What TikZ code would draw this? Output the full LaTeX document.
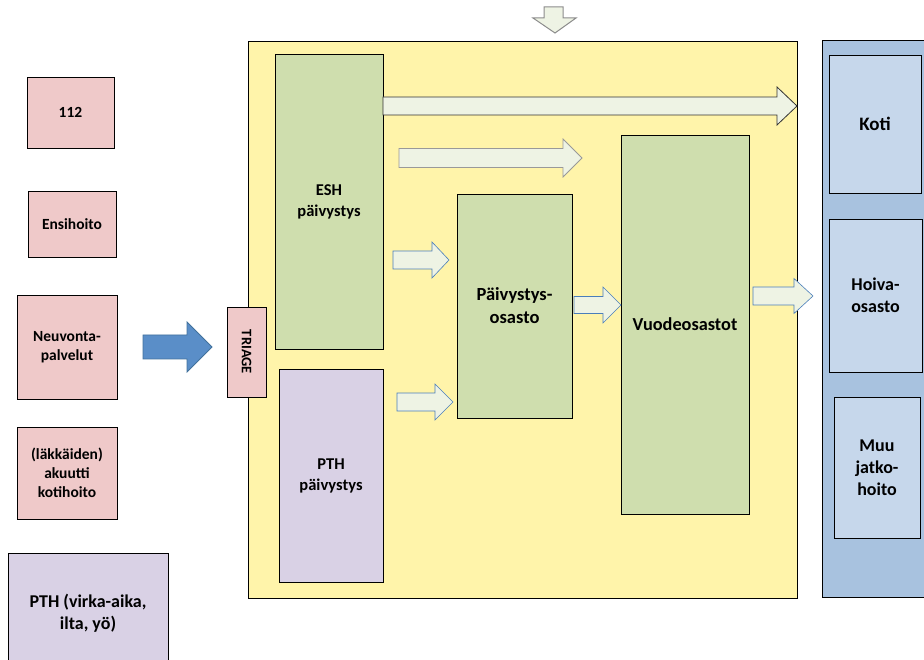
\documentclass[tikz,border=0pt]{standalone}
\usepackage{fontspec}
\setmainfont{Carlito}[BoldFont={Carlito Bold}]
\usepackage{xcolor}
\usepackage{tikz}
\usetikzlibrary{positioning}

\definecolor{yellowbg}{HTML}{FFF4AA}
\definecolor{greenbox}{HTML}{CFDEAE}
\definecolor{lilacbox}{HTML}{D9D1E5}
\definecolor{pinkbox}{HTML}{EFC9C9}
\definecolor{bluepanel}{HTML}{A8C2DF}
\definecolor{bluebox}{HTML}{C6D7EB}
\definecolor{arrowfill}{HTML}{EEF3E4}
\definecolor{bigarrow}{HTML}{5A8EC8}
\definecolor{bigarrowline}{HTML}{41719C}
\definecolor{arrowline}{HTML}{4A7EBB}

% block arrow: [style]{x start}{x tip}{y}{half shaft}{half head}{x head}
\newcommand{\blockarrow}[7][]{%
  \draw[#1] (#2,#4-#5) -- (#7,#4-#5) -- (#7,#4-#6) -- (#3,#4)
    -- (#7,#4+#6) -- (#7,#4+#5) -- (#2,#4+#5) -- cycle;}

\begin{document}
\begin{tikzpicture}[x=1pt,y=-1pt,
    font=\bfseries\fontsize{16}{20}\selectfont,
    box/.style={draw=black, line width=0.8pt, align=center, inner sep=0pt},
    pink/.style={box, fill=pinkbox},
    green/.style={box, fill=greenbox},
    lilac/.style={box, fill=lilacbox},
    lightblue/.style={box, fill=bluebox, font=\bfseries\fontsize{18}{22}\selectfont},
    flow/.style={fill=arrowfill, draw=arrowline, line width=0.6pt},
    ]
\useasboundingbox (0,0) rectangle (924,660);
\clip (0,0) rectangle (924,660);

% backgrounds
\node[box, fill=yellowbg, minimum width=549pt, minimum height=557pt] (hosp) at (522.5,319.5) {};
\node[box, fill=bluepanel, minimum width=120pt, minimum height=557pt] (after) at (882,318.5) {};

% left column
\node[pink, minimum width=87pt, minimum height=71pt, font=\bfseries\fontsize{15.5}{18}\selectfont] (n112) at (70.5,112.5) {112};
\node[pink, minimum width=88pt, minimum height=66pt, font=\bfseries\fontsize{15.5}{18}\selectfont] (ensi) at (72,224) {Ensihoito};
\node[pink, minimum width=100pt, minimum height=104pt, font=\bfseries\fontsize{15.5}{19}\selectfont] (neuvo) at (67,347) {Neuvonta-\\palvelut};
\node[pink, minimum width=100pt, minimum height=92pt, font=\bfseries\fontsize{15.5}{19}\selectfont] (koti1) at (67,473) {(läkkäiden)\\akuutti\\kotihoito};
\node[lilac, minimum width=160pt, minimum height=120pt, font=\bfseries\fontsize{18}{22}\selectfont] (pth) at (88,613) {PTH (virka-aika,\\ilta, yö)};

% triage
\node[pink, minimum width=39pt, minimum height=90pt] (triage) at (246.5,352) {};
\node[rotate=-90, font=\bfseries\fontsize{14.5}{17}\selectfont] (triagetxt) at (triage.center) {TRIAGE};

% inside the hospital
\node[green, minimum width=108pt, minimum height=295pt, font=\bfseries\fontsize{16.5}{21}\selectfont] (esh) at (329,201.5) {ESH\\päivystys};
\node[lilac, minimum width=104pt, minimum height=213pt, font=\bfseries\fontsize{16.5}{21}\selectfont] (pthp) at (331,475.5) {PTH\\päivystys};
\node[green, minimum width=115pt, minimum height=224pt, font=\bfseries\fontsize{18.5}{23}\selectfont] (pos) at (514.5,306) {Päivystys-\\osasto};
\node[green, minimum width=128pt, minimum height=379pt, font=\bfseries\fontsize{18.3}{22}\selectfont] (vuode) at (685,324.5) {Vuodeosastot};

% after care
\node[lightblue, minimum width=92pt, minimum height=138pt, font=\bfseries\fontsize{19}{22}\selectfont] (kotibox) at (875,124) {Koti};
\node[lightblue, minimum width=93pt, minimum height=153pt] (hoiva) at (875.5,295.5) {Hoiva-\\osasto};
\node[lightblue, minimum width=86pt, minimum height=141pt] (muu) at (877,467.5) {Muu\\jatko-\\hoito};

% arrows
\blockarrow[fill=bigarrow, draw=bigarrowline, line width=0.8pt]{143}{212}{347}{12}{25}{187}
\blockarrow[fill=arrowfill, draw=black!80, line width=0.8pt]{383}{797}{106}{9}{19}{777}
\blockarrow[fill=arrowfill, draw=black!40, line width=0.8pt]{399}{582}{158}{9.5}{19}{563}
\blockarrow[flow]{393}{449}{260}{9}{18}{432}
\blockarrow[flow]{397}{453}{402}{9}{18}{435}
\blockarrow[flow]{574}{621}{305}{8.5}{18}{603}
\blockarrow[flow]{753}{813}{296}{9}{17.5}{794}
\draw[fill=arrowfill, draw=black!45, line width=1pt]
  (544,7) -- (563,7) -- (563,18) -- (576,18) -- (555,33) -- (533,18) -- (544,18) -- cycle;
\end{tikzpicture}
\end{document}
